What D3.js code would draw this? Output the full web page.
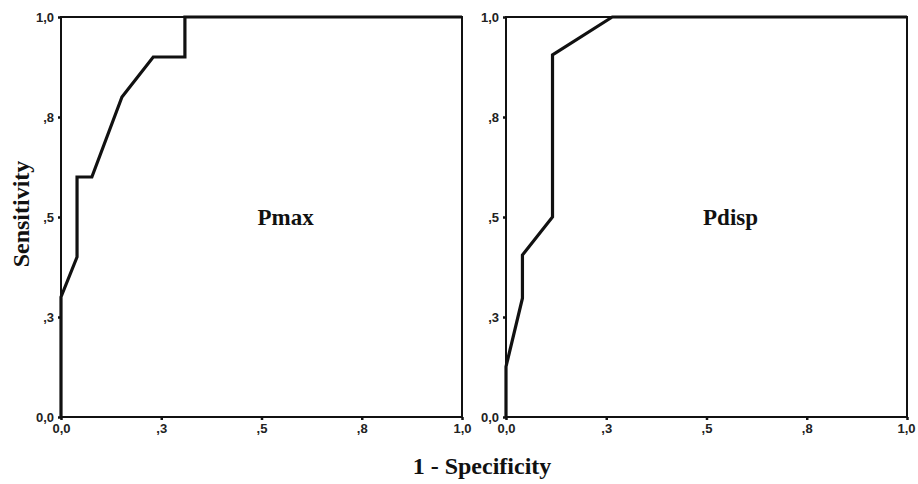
<!DOCTYPE html>
<html>
<head>
<meta charset="utf-8">
<script src="https://cdn.jsdelivr.net/npm/d3@7"></script>
<style>
  body { margin: 0; background: #fff; }
  svg { display: block; }
</style>
</head>
<body>
<div id="chart"></div>
<script>
// ROC data: [1 - specificity, sensitivity]
var pmaxFpr  = [0, 0,    0.04, 0.04, 0.077, 0.152, 0.23, 0.309, 0.309, 1];
var pmaxTpr  = [0, 0.30, 0.40, 0.60, 0.60,  0.80,  0.90, 0.90,  1,     1];
var pdispFpr = [0, 0,     0.041, 0.041, 0.116, 0.116, 0.265, 1];
var pdispTpr = [0, 0.126, 0.297, 0.405, 0.50,  0.905, 1,     1];
var tickVals = [0, 0.25, 0.5, 0.75, 1];
var tickText = ['0,0', ',3', ',5', ',8', '1,0'];
var panelNames = ['Pmax', 'Pdisp'];

var W = 918, H = 484;
var svg = d3.select('#chart').append('svg').attr('width', W).attr('height', H);

var panels = [
  { name: panelNames[0], fpr: pmaxFpr, tpr: pmaxTpr, left: 61 },
  { name: panelNames[1], fpr: pdispFpr, tpr: pdispTpr, left: 506 }
];
var plotTop = 17, plotW = 401, plotH = 400;

var y = d3.scaleLinear().domain([0, 1]).range([plotTop + plotH, plotTop]);

panels.forEach(function (p, pi) {
  var x = d3.scaleLinear().domain([0, 1]).range([p.left, p.left + plotW]);
  var g = svg.append('g');

  // frame
  g.append('rect')
    .attr('x', x(0)).attr('y', y(1))
    .attr('width', x(1) - x(0)).attr('height', y(0) - y(1))
    .attr('fill', 'none').attr('stroke', '#111').attr('stroke-width', 2);

  var fmt = function (d) { return tickText[tickVals.indexOf(d)]; };
  var xAxis = g.append('g').attr('transform', 'translate(0,' + y(0) + ')')
    .call(d3.axisBottom(x).tickValues(tickVals).tickFormat(fmt).tickSize(3).tickPadding(4));
  var yAxis = g.append('g').attr('transform', 'translate(' + x(0) + ',0)')
    .call(d3.axisLeft(y).tickValues(tickVals).tickFormat(fmt).tickSize(3).tickPadding(4));
  [xAxis, yAxis].forEach(function (a) {
    a.select('.domain').remove();
    a.selectAll('.tick line').attr('stroke', '#111').attr('stroke-width', 2.5);
    a.selectAll('text').attr('fill', '#222')
      .style('font-family', 'Liberation Sans, Arial, sans-serif')
      .style('font-size', '13px').style('font-weight', 'bold');
  });
  // keep the last label inside the window on the right panel
  if (pi === 1) {
    xAxis.selectAll('.tick text').filter(function (d) { return d === 1; }).attr('dx', '-1');
  }

  var pts = p.fpr.map(function (f, i) { return [f, p.tpr[i]]; });
  g.append('path')
    .datum(pts)
    .attr('fill', 'none').attr('stroke', '#111').attr('stroke-width', 3.2)
    .attr('stroke-linejoin', 'miter')
    .attr('d', d3.line().x(function (d) { return x(d[0]); }).y(function (d) { return y(d[1]); }));

  g.append('text')
    .attr('x', x(0.56)).attr('y', y(0.48))
    .attr('text-anchor', 'middle')
    .style('font-family', 'Liberation Serif, Times New Roman, serif')
    .style('font-size', '23px').style('font-weight', 'bold')
    .attr('fill', '#111')
    .text(p.name);
});

svg.append('text')
  .attr('transform', 'translate(29,214) rotate(-90)')
  .attr('text-anchor', 'middle')
  .style('font-family', 'Liberation Serif, Times New Roman, serif')
  .style('font-size', '24px').style('font-weight', 'bold')
  .attr('fill', '#111')
  .text('Sensitivity');

svg.append('text')
  .attr('x', 482).attr('y', 474)
  .attr('text-anchor', 'middle')
  .style('font-family', 'Liberation Serif, Times New Roman, serif')
  .style('font-size', '24px').style('font-weight', 'bold')
  .attr('fill', '#111')
  .text('1 - Specificity');
</script>
</body>
</html>
